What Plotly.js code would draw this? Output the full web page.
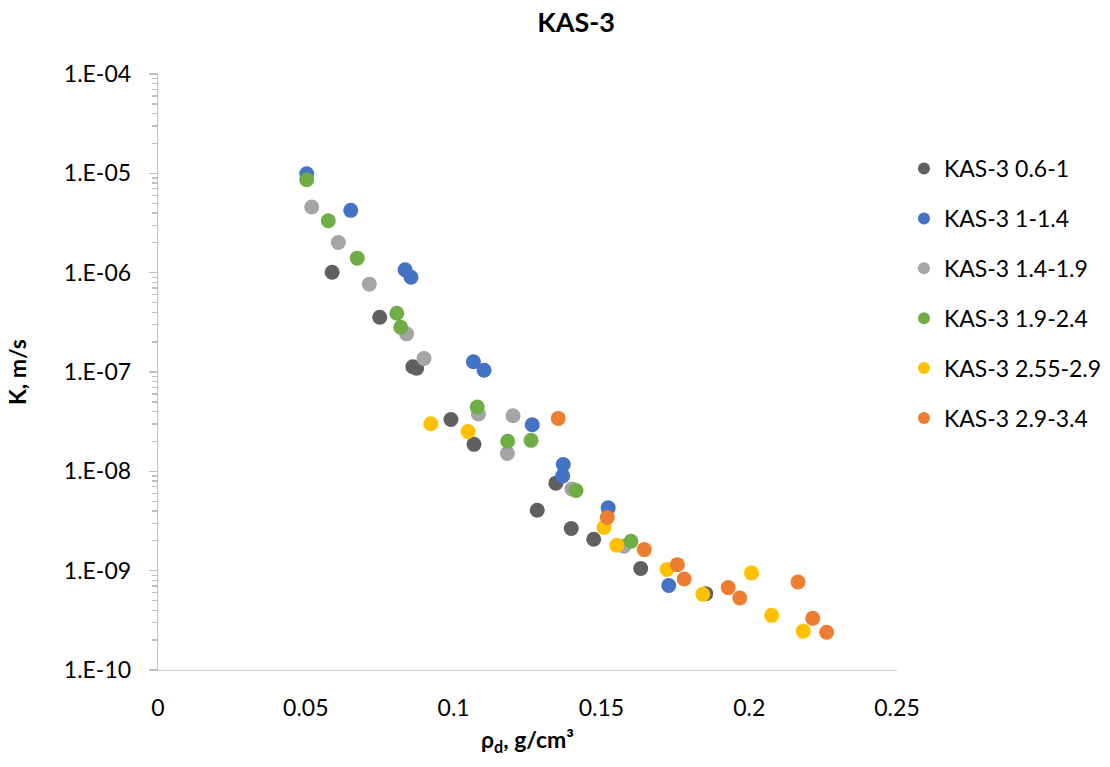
<!DOCTYPE html>
<html>
<head>
<meta charset="utf-8">
<script src="https://cdn.plot.ly/plotly-3.0.1.min.js"></script>
<style>html,body{margin:0;padding:0;background:#fff;}#chart{width:1110px;height:767px;}</style>
</head>
<body>
<div id="chart"></div>
<script>
// Series names
const seriesNames = ["KAS-3 0.6-1", "KAS-3 1-1.4", "KAS-3 1.4-1.9", "KAS-3 1.9-2.4", "KAS-3 2.55-2.9", "KAS-3 2.9-3.4"];
const seriesColors = ["#606060", "#4472C4", "#A5A5A5", "#70AD47", "#FFC000", "#ED7D31"];

// rho_d (g/cm3) and K (m/s) per series
const x_06_1 = [0.0589, 0.0750, 0.0862, 0.0875, 0.0991, 0.1069, 0.1346, 0.1283, 0.1398, 0.1474, 0.1633, 0.1853];
const k_06_1 = [1.01e-6, 3.56e-7, 1.13e-7, 1.09e-7, 3.33e-8, 1.87e-8, 7.6e-9, 4.06e-9, 2.66e-9, 2.07e-9, 1.05e-9, 5.87e-10];

const x_1_14 = [0.0503, 0.0652, 0.0836, 0.0856, 0.1067, 0.1103, 0.1266, 0.1371, 0.1369, 0.1523, 0.1728];
const k_1_14 = [9.9e-6, 4.24e-6, 1.07e-6, 9.0e-7, 1.27e-7, 1.04e-7, 2.94e-8, 1.17e-8, 9.0e-9, 4.29e-9, 7.1e-10];

const x_14_19 = [0.0520, 0.0610, 0.0715, 0.0841, 0.0900, 0.1084, 0.1201, 0.1182, 0.1400, 0.1576];
const k_14_19 = [4.58e-6, 2.01e-6, 7.66e-7, 2.42e-7, 1.37e-7, 3.78e-8, 3.63e-8, 1.51e-8, 6.65e-9, 1.76e-9];

const x_19_24 = [0.0503, 0.0576, 0.0674, 0.0808, 0.0821, 0.1080, 0.1183, 0.1262, 0.1414, 0.1600];
const k_19_24 = [8.63e-6, 3.33e-6, 1.40e-6, 3.91e-7, 2.82e-7, 4.43e-8, 2.01e-8, 2.05e-8, 6.41e-9, 1.98e-9];

const x_255_29 = [0.0923, 0.1049, 0.1509, 0.1552, 0.1722, 0.1843, 0.2008, 0.2076, 0.2183];
const k_255_29 = [3.01e-8, 2.52e-8, 2.72e-9, 1.80e-9, 1.03e-9, 5.78e-10, 9.46e-10, 3.55e-10, 2.46e-10];

const x_29_34 = [0.1354, 0.1520, 0.1645, 0.1757, 0.1780, 0.1929, 0.1968, 0.2165, 0.2215, 0.2262];
const k_29_34 = [3.41e-8, 3.43e-9, 1.63e-9, 1.15e-9, 8.24e-10, 6.75e-10, 5.30e-10, 7.69e-10, 3.31e-10, 2.40e-10];

const xTickVals = [0, 0.05, 0.1, 0.15, 0.2, 0.25];
const xTickText = ["0", "0.05", "0.1", "0.15", "0.2", "0.25"];
const yTickVals = [1e-10, 1e-9, 1e-8, 1e-7, 1e-6, 1e-5, 1e-4];
const yTickText = ["1.E-10", "1.E-09", "1.E-08", "1.E-07", "1.E-06", "1.E-05", "1.E-04"];

const xs = [x_06_1, x_1_14, x_14_19, x_19_24, x_255_29, x_29_34];
const ks = [k_06_1, k_1_14, k_14_19, k_19_24, k_255_29, k_29_34];

const FONT = "Lato, 'Open Sans', sans-serif";

const traces = seriesNames.map((name, i) => ({
  type: "scatter",
  mode: "markers",
  name: name,
  legendgroup: "g" + i,
  x: xs[i],
  y: ks[i],
  marker: { color: seriesColors[i], size: 15, line: { width: 0 } },
  hoverinfo: "x+y+name"
}));

const layout = {
  width: 1110,
  height: 767,
  paper_bgcolor: "#ffffff",
  plot_bgcolor: "#ffffff",
  margin: { l: 158, r: 213, t: 74, b: 97 },
  font: { family: FONT, size: 23, color: "#000000" },
  title: {
    text: "<b>KAS-3</b>",
    font: { family: FONT, size: 27, color: "#000000" },
    x: 0.519, xref: "container", xanchor: "center",
    y: 0.971, yref: "container", yanchor: "middle"
  },
  xaxis: {
    range: [0, 0.25],
    automargin: false,
    tickmode: "array",
    tickvals: xTickVals,
    ticktext: xTickText,
    ticks: "",
    ticklabelstandoff: 17,
    showgrid: false,
    zeroline: false,
    showline: true,
    linecolor: "#d0d0d0",
    linewidth: 1.3,
    tickfont: { family: FONT, size: 23, color: "#000000" },
    title: { text: "<b>ρ<sub>d</sub>, g/cm³</b>", font: { family: FONT, size: 23, color: "#000000" }, standoff: 12 }
  },
  yaxis: {
    type: "log",
    range: [-10, -4],
    automargin: false,
    tickmode: "array",
    tickvals: yTickVals,
    ticktext: yTickText,
    ticks: "outside",
    ticklen: 8,
    tickcolor: "#bfbfbf",
    tickwidth: 1.3,
    ticklabelstandoff: 13,
    minor: { ticks: "outside", ticklen: 5, tickcolor: "#bfbfbf", tickwidth: 1.3, dtick: "D1", showgrid: false },
    showgrid: false,
    zeroline: false,
    showline: true,
    linecolor: "#bfbfbf",
    linewidth: 1.3,
    tickfont: { family: FONT, size: 23, color: "#000000" },
    title: { text: "<b>K, m/s</b>", font: { family: FONT, size: 23, color: "#000000" }, standoff: 30 }
  },
  legend: {
    xref: "container", yref: "container",
    x: 0.8144, xanchor: "left",
    y: 0.8083, yanchor: "top",
    font: { family: FONT, size: 23, color: "#000000" },
    tracegroupgap: 17,
    itemsizing: "constant",
    bgcolor: "rgba(0,0,0,0)"
  },
  showlegend: true
};

Plotly.newPlot("chart", traces, layout, { displayModeBar: false, staticPlot: true });
</script>
</body>
</html>
